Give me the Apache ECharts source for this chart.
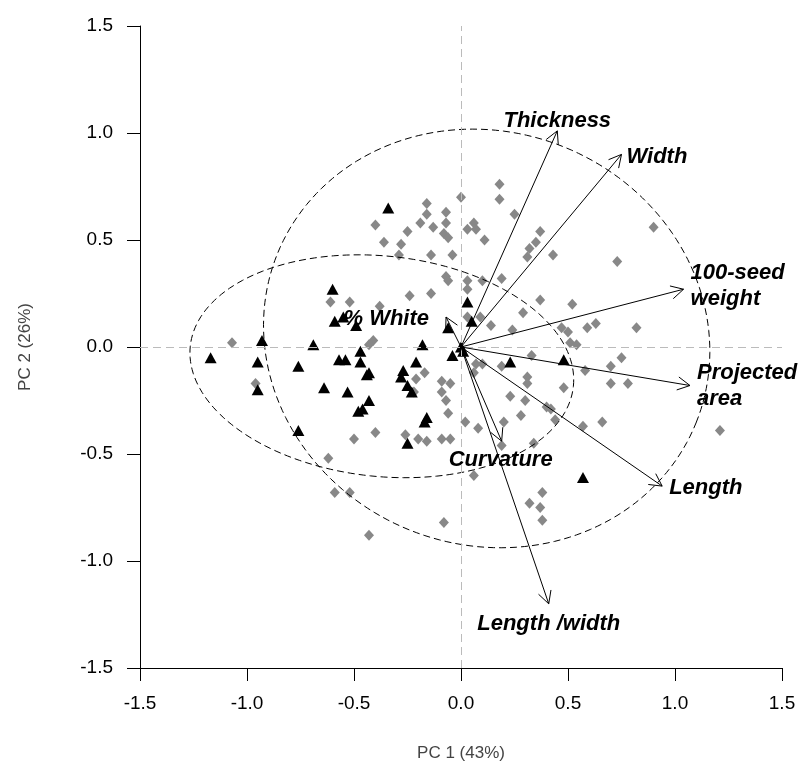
<!DOCTYPE html>
<html>
<head>
<meta charset="utf-8">
<script src="https://cdn.jsdelivr.net/npm/echarts@6/dist/echarts.min.js"></script>
<style>
  html, body { margin: 0; padding: 0; background: #fff; }
  #pca { width: 808px; height: 767px; }
</style>
</head>
<body>
<div id="pca"></div>
<script>
// scores, gray diamonds
var grayPts = [
  [0.00, 0.70], [0.18, 0.76], [0.18, 0.69], [-0.16, 0.67], [0.25, 0.62], [-0.40, 0.57],
  [-0.19, 0.58], [-0.16, 0.62], [-0.07, 0.63], [-0.07, 0.58], [-0.13, 0.56], [-0.08, 0.53],
  [-0.06, 0.51], [-0.25, 0.54], [-0.36, 0.49], [-0.28, 0.48], [-0.29, 0.43], [-0.14, 0.43],
  [-0.04, 0.43], [0.03, 0.55], [0.06, 0.58], [0.07, 0.55], [0.11, 0.50], [0.37, 0.54],
  [0.35, 0.49], [0.32, 0.46], [0.31, 0.42], [0.43, 0.43], [0.90, 0.56], [0.73, 0.40],
  [-0.07, 0.33], [-0.06, 0.31], [0.03, 0.31], [0.10, 0.31], [0.19, 0.32], [0.03, 0.27],
  [-0.24, 0.24], [-0.14, 0.25], [-0.61, 0.21], [-0.52, 0.21], [-0.38, 0.19], [0.37, 0.22],
  [0.52, 0.20], [0.29, 0.16], [0.03, 0.14], [0.09, 0.14], [0.14, 0.10], [0.24, 0.08],
  [0.47, 0.09], [0.50, 0.07], [0.59, 0.09], [0.63, 0.11], [0.82, 0.09], [0.51, 0.02],
  [0.54, 0.01], [0.33, -0.04], [0.75, -0.05], [-0.41, 0.03], [-0.43, 0.01], [-1.07, 0.02],
  [0.10, -0.08], [0.07, -0.08], [0.19, -0.09], [0.70, -0.09], [0.58, -0.11], [0.70, -0.17],
  [0.78, -0.17], [0.48, -0.19], [0.31, -0.14], [0.31, -0.17], [0.06, -0.12], [0.23, -0.23],
  [0.30, -0.25], [0.40, -0.28], [0.42, -0.29], [0.02, -0.35], [0.08, -0.38], [0.20, -0.35],
  [0.28, -0.32], [0.44, -0.34], [0.57, -0.37], [0.66, -0.35], [1.21, -0.39], [0.19, -0.46],
  [0.34, -0.45], [0.06, -0.60], [0.38, -0.68], [0.32, -0.73], [0.37, -0.75], [0.38, -0.81],
  [-0.08, -0.82], [-0.43, -0.88], [-0.59, -0.68], [-0.52, -0.68], [-0.62, -0.52], [-0.96, -0.17],
  [-0.17, -0.12], [-0.21, -0.15], [-0.09, -0.16], [-0.05, -0.17], [-0.09, -0.21], [-0.07, -0.25],
  [-0.06, -0.31], [-0.22, -0.21], [-0.50, -0.43], [-0.40, -0.40], [-0.26, -0.41], [-0.20, -0.43],
  [-0.16, -0.44], [-0.09, -0.43], [-0.05, -0.43]
];

// scores, black triangles
var blackPts = [
  [-0.34, 0.65], [-0.60, 0.27], [-0.59, 0.12], [-0.55, 0.14], [-0.49, 0.10], [-0.93, 0.03],
  [-1.17, -0.05], [-0.69, 0.01], [-0.95, -0.07], [-0.76, -0.09], [-0.57, -0.06], [-0.54, -0.06],
  [-0.47, -0.02], [-0.47, -0.07], [-0.43, -0.12], [-0.44, -0.13], [-0.18, 0.01], [-0.21, -0.07],
  [-0.27, -0.11], [-0.28, -0.14], [-0.25, -0.18], [-0.23, -0.21], [-0.95, -0.20], [-0.64, -0.19],
  [-0.53, -0.21], [-0.43, -0.25], [-0.46, -0.29], [-0.48, -0.30], [-0.16, -0.33], [-0.17, -0.35],
  [-0.76, -0.39], [-0.25, -0.45], [-0.06, 0.09], [0.03, 0.21], [0.05, 0.12], [-0.04, -0.04],
  [0.00, 0.00], [0.01, -0.02], [0.23, -0.07], [0.48, -0.06], [0.57, -0.61]
];

// variable loadings (arrow tips)
var loadNames = ['Thickness', 'Width', '100-seed\nweight', 'Projected\narea', 'Length', 'Length /width', 'Curvature', '% White'];
var loadX = [0.45, 0.75, 1.04, 1.07, 0.94, 0.41, 0.19, -0.07];
var loadY = [1.01, 0.90, 0.27, -0.18, -0.65, -1.20, -0.44, 0.14];

// concentration ellipses: center x, center y, semi-major, semi-minor, angle (deg)
var ellipseGray = [0.12, 0.04, 1.055, 0.965, -22];
var ellipseBlack = [-0.37, -0.09, 0.90, 0.515, -6];

// where each arrow label sits relative to its tip (px)
var labelPlace = [
  { dx: 0, dy: -10, align: 'center' },
  { dx: 5, dy: 3, align: 'left' },
  { dx: 7, dy: -3, align: 'left' },
  { dx: 7, dy: 0, align: 'left' },
  { dx: 7, dy: 2, align: 'left' },
  { dx: 0, dy: 20, align: 'center' },
  { dx: -1, dy: 19, align: 'center' },
  { dx: -17, dy: 2, align: 'right' }
];

var chart = echarts.init(document.getElementById('pca'));

var loadData = loadNames.map(function (n, i) { return [loadX[i], loadY[i], i]; });

function renderArrow(params, api) {
  var i = api.value(2);
  var o = api.coord([0, 0]);
  var t = api.coord([api.value(0), api.value(1)]);
  var ang = Math.atan2(t[1] - o[1], t[0] - o[0]);
  var hl = 14, ha = 28 * Math.PI / 180;
  var h1 = [t[0] - hl * Math.cos(ang - ha), t[1] - hl * Math.sin(ang - ha)];
  var h2 = [t[0] - hl * Math.cos(ang + ha), t[1] - hl * Math.sin(ang + ha)];
  var p = labelPlace[i];
  return {
    type: 'group',
    children: [
      { type: 'line', shape: { x1: o[0], y1: o[1], x2: t[0], y2: t[1] },
        style: { stroke: '#000', lineWidth: 1 } },
      { type: 'polyline', shape: { points: [h1, t, h2] },
        style: { stroke: '#000', lineWidth: 1, fill: null } },
      { type: 'text', z2: 10,
        style: { text: loadNames[i], x: t[0] + p.dx, y: t[1] + p.dy,
          align: p.align, verticalAlign: 'middle', lineHeight: 26,
          font: 'italic bold 22px "Liberation Sans", Arial, sans-serif', fill: '#000' } }
    ]
  };
}

function ellipseSeries(par) {
  return {
    type: 'custom',
    data: [par],
    silent: true,
    clip: false,
    z: 3,
    renderItem: function (params, api) {
      var e = par, th = e[4] * Math.PI / 180, pts = [];
      for (var k = 0; k <= 180; k++) {
        var s = k / 180 * 2 * Math.PI;
        var u = e[2] * Math.cos(s), v = e[3] * Math.sin(s);
        pts.push(api.coord([e[0] + u * Math.cos(th) - v * Math.sin(th),
                            e[1] + u * Math.sin(th) + v * Math.cos(th)]));
      }
      return { type: 'polyline', shape: { points: pts },
        style: { stroke: '#000', lineWidth: 1, fill: null, lineDash: [7, 4] } };
    }
  };
}

var tickFont = '"Liberation Sans Narrow", "Liberation Sans", Arial, sans-serif';

var option = {
  animation: false,
  backgroundColor: '#fff',
  grid: { left: 140, right: 26, top: 26, bottom: 99, outerBoundsMode: 'none', containLabel: false },
  xAxis: {
    type: 'value', min: -1.5, max: 1.5, interval: 0.5,
    name: 'PC 1 (43%)', nameLocation: 'middle', nameGap: 77,
    nameTextStyle: { color: '#444', fontSize: 17, fontFamily: tickFont },
    axisLine: { show: true, onZero: false, lineStyle: { color: '#000', width: 1 } },
    axisTick: { show: true, length: 13, lineStyle: { color: '#000' } },
    axisLabel: { margin: 26, color: '#000', fontSize: 19, fontFamily: tickFont,
      formatter: function (v) { return v.toFixed(1); } },
    splitLine: { show: false }
  },
  yAxis: {
    type: 'value', min: -1.5, max: 1.5, interval: 0.5,
    name: 'PC 2 (26%)', nameLocation: 'middle', nameGap: 106,
    nameTextStyle: { color: '#444', fontSize: 17, fontFamily: tickFont },
    axisLine: { show: true, onZero: false, lineStyle: { color: '#000', width: 1 } },
    axisTick: { show: true, length: 13, lineStyle: { color: '#000' } },
    axisLabel: { margin: 27, color: '#000', fontSize: 19, fontFamily: tickFont,
      formatter: function (v) { return v.toFixed(1); } },
    splitLine: { show: false }
  },
  series: [
    {
      type: 'scatter', data: grayPts, symbol: 'diamond', symbolSize: [10, 11],
      itemStyle: { color: '#888', opacity: 1 }, z: 2, silent: true,
      markLine: {
        silent: true, symbol: 'none', label: { show: false },
        lineStyle: { color: '#bbb', type: [8, 5], width: 1 },
        data: [{ xAxis: 0 }, { yAxis: 0 }]
      }
    },
    {
      type: 'scatter', data: blackPts, symbol: 'triangle', symbolSize: [12, 11],
      itemStyle: { color: '#000', opacity: 1 }, z: 2, silent: true
    },
    ellipseSeries(ellipseGray),
    ellipseSeries(ellipseBlack),
    {
      type: 'custom', data: loadData, renderItem: renderArrow,
      clip: false, silent: true, z: 5
    }
  ]
};

chart.setOption(option);
</script>
</body>
</html>
